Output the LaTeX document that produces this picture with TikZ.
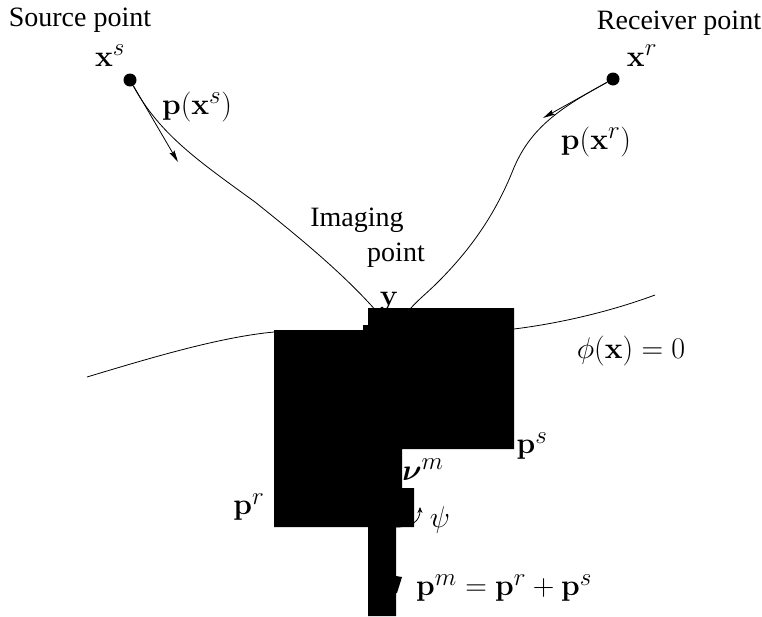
\documentclass[tikz,border=0pt]{standalone}
\usepackage{amsmath,bm}
\usepackage[no-math]{fontspec}
\setmainfont{Liberation Serif}
\usetikzlibrary{arrows.meta}
\newcommand{\mlbl}[1]{\scalebox{1.205}{$#1$}}
\begin{document}
\begin{tikzpicture}[x=1pt,y=-1pt,
  every node/.style={inner sep=0pt,font=\fontsize{28}{32}\selectfont},
  mathlbl/.style={font=\fontsize{24.88}{30}\selectfont},
  curve/.style={line width=0.8pt},
  vecarrow/.style={line width=0.8pt,-{Stealth[length=12pt,width=5.5pt,inset=2pt]}},
  dotnode/.style={circle,fill=black,minimum size=13pt},
  blackfill/.style={fill=black}]
\useasboundingbox (0,0) rectangle (762,616);
% labels
\node (srclbl) at (80,20) {Source point};
\node (rcvlbl) at (679,23) {Receiver point};
\node[mathlbl] (xs) at (110,56) {\mlbl{\mathbf{x}^s}};
\node[mathlbl] (xr) at (642,56) {\mlbl{\mathbf{x}^r}};
\node[mathlbl] (pxs) at (197,107) {\mlbl{\mathbf{p}(\mathbf{x}^s)}};
\node[mathlbl] (pxr) at (596,142) {\mlbl{\mathbf{p}(\mathbf{x}^r)}};
\node (img1) at (357,220) {Imaging};
\node (img2) at (396,255) {point};
\node[mathlbl] (ylbl) at (389,302) {\mlbl{\mathbf{y}}};
\node[mathlbl] (phi) at (631,351) {\mlbl{\phi(\mathbf{x})=0}};
\node[mathlbl] (ps) at (532,446) {\mlbl{\mathbf{p}^s}};
\node[mathlbl] (pr) at (249,507) {\mlbl{\mathbf{p}^r}};
\node[mathlbl,anchor=west] (pm) at (416,588) {\mlbl{\mathbf{p}^m=\mathbf{p}^r+\mathbf{p}^s}};
% points
\node[dotnode] (S) at (130,80) {};
\node[dotnode] (R) at (613,79) {};
\coordinate (sa) at (178,162);
\coordinate (ra) at (543,118);
\coordinate (Y1) at (378,313);
\coordinate (Y2) at (407,313);
% arrows
\draw[vecarrow] (S) -- (sa);
\draw[vecarrow] (R) -- (ra);
% rays
\draw[curve] (S) .. controls (160,135) and (200,162) .. (255,202)
  .. controls (300,238) and (345,275) .. (Y1);
\draw[curve] (R) .. controls (560,108) and (530,128) .. (513,170)
  .. controls (495,215) and (470,250) .. (438,282)
  .. controls (425,295) and (414,303) .. (Y2);
% surface
\coordinate (s0) at (87,377);
\coordinate (s1) at (274,332);
\coordinate (s2) at (514,329);
\coordinate (s3) at (655,295);
\draw[curve] (s0) .. controls (150,358) and (220,337) .. (s1) -- (s2)
  .. controls (570,322) and (620,308) .. (s3);
% black region
\fill[blackfill] (274,330) -- (363,330) -- (363,325) -- (368,325) -- (368,308)
  -- (514,308) -- (514,449) -- (402,449) -- (402,488) -- (414,488) -- (414,527)
  -- (396,527) -- (396,616) -- (368,616) -- (368,527) -- (274,527) -- cycle;
\fill[blackfill] (396,576) -- (402,577) -- (397,593) -- (396,593) -- cycle;
\node[mathlbl] (num) at (423,470) {\mlbl{\boldsymbol{\nu}^m}};
\node[mathlbl] (psi) at (440,520) {\mlbl{\psi}};
\coordinate (a0) at (396,527);
\coordinate (a1) at (420,507);
\draw[line width=0.8pt,-{Stealth[length=6pt,width=5pt]}] (a0) .. controls (412,527) and (420,521) .. (a1);
\end{tikzpicture}
\end{document}
